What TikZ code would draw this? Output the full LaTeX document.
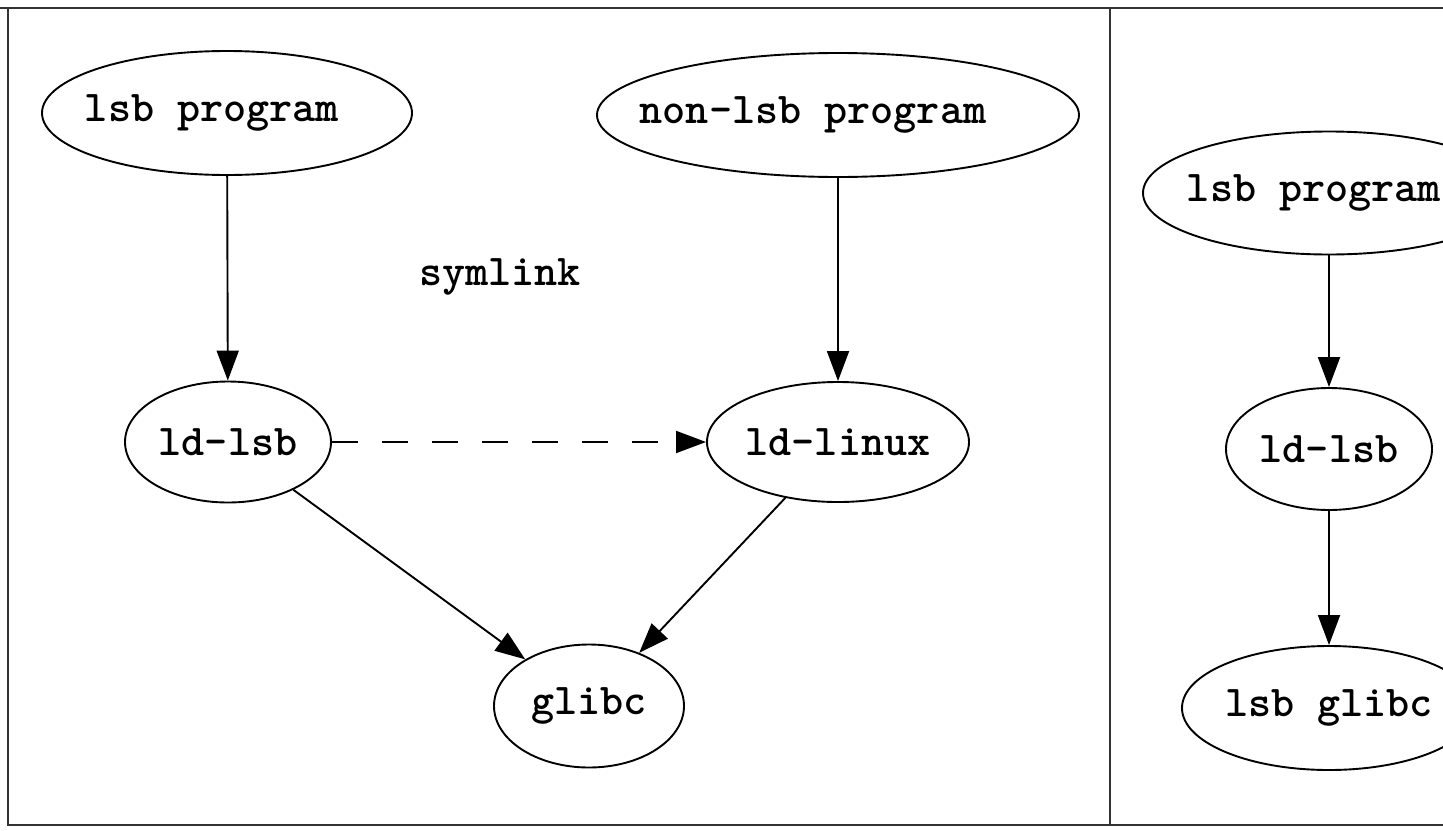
\documentclass[tikz,border=0pt]{standalone}
\usepackage{fontspec}
\usetikzlibrary{arrows.meta,shapes.geometric}
\newcommand{\offtext}[2]{\makebox[0pt][c]{#2\hspace*{#1}}}
\tikzset{
  nodefont/.style={font=\ttfamily\bfseries\fontsize{44}{50}\selectfont},
  graphnode/.style={draw, ellipse, line width=1.9pt, inner sep=0pt, nodefont},
  edge/.style={line width=1.9pt, -{Triangle[length=30pt,width=22pt]}},
  frame/.style={line width=1.6pt, draw=black!80},
  label/.style={nodefont}
}
\begin{document}
\begin{tikzpicture}[x=1pt,y=-1pt]
\useasboundingbox (0,0) rectangle (1443,830);
\clip (0,0) rectangle (1443,830);
\fill[white] (0,0) rectangle (1443,830);
% panel borders
\draw[frame] (0,8) -- (1443,8);
\draw[frame] (8,8) -- (8,825) -- (1443,825);
\draw[frame] (1110,8) -- (1110,825);

% left panel
\node[graphnode, minimum width=370pt, minimum height=124pt] (lsbprog) at (227,113) {\offtext{30pt}{lsb program}};
\node[graphnode, minimum width=482pt, minimum height=124pt] (nonlsb) at (838,115) {\offtext{50pt}{non-lsb program}};
\node[graphnode, minimum width=206pt, minimum height=121pt] (ldlsb) at (228,442) {ld-lsb};
\node[graphnode, minimum width=262pt, minimum height=120pt] (ldlinux) at (838,442) {ld-linux};
\node[graphnode, minimum width=190pt, minimum height=123pt] (glibc) at (589,706) {glibc};
\node[label] (symlink) at (500,277) {symlink};

\draw[edge] (lsbprog) -- (ldlsb);
\draw[edge] (nonlsb) -- (ldlinux);
\draw[edge, dash pattern=on 26pt off 24pt] (ldlsb.east) -- (ldlinux.west);
\draw[edge] (ldlsb) -- (glibc);
\draw[edge] (ldlinux) -- (glibc);

% right panel
\node[graphnode, minimum width=372pt, minimum height=123pt] (rlsbprog) at (1329,193) {\offtext{30pt}{lsb program}};
\node[graphnode, minimum width=206pt, minimum height=122pt] (rldlsb) at (1329,449) {ld-lsb};
\node[graphnode, minimum width=278pt, minimum height=124pt] (rglibc) at (1329,708) {lsb glibc};

\draw[edge] (rlsbprog) -- (rldlsb);
\draw[edge] (rldlsb) -- (rglibc);
\end{tikzpicture}
\end{document}
